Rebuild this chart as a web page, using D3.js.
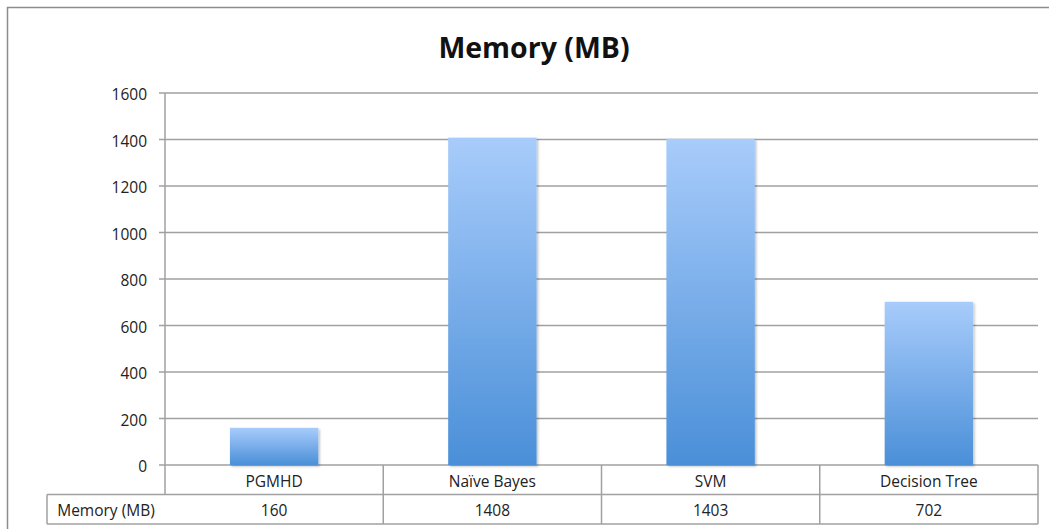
<!DOCTYPE html>
<html>
<head>
<meta charset="utf-8">
<script src="https://cdn.jsdelivr.net/npm/d3@7/dist/d3.min.js"></script>
<style>
  html, body { margin: 0; padding: 0; background: #fff; }
  svg { display: block; }
</style>
</head>
<body>
<svg id="chart" width="1049" height="529"></svg>
<script>
// Memory usage per classifier
const categories = ["PGMHD", "Naïve Bayes", "SVM", "Decision Tree"];
const memoryMB = [160, 1408, 1403, 702];
const yTicks = [0, 200, 400, 600, 800, 1000, 1200, 1400, 1600];
const seriesName = "Memory (MB)";
const chartTitle = "Memory (MB)";

const W = 1049, H = 529;
const font = "'Open Sans', 'Liberation Sans', sans-serif";
const labelSize = 15.5;
const plot = { left: 165, right: 1038, top: 93, bottom: 465 };
const rowH = 29.5;

const svg = d3.select("#chart");

// gradient fill for bars
const defs = svg.append("defs");
const grad = defs.append("linearGradient")
  .attr("id", "barFill").attr("x1", 0).attr("y1", 0).attr("x2", 0).attr("y2", 1);
grad.append("stop").attr("offset", "0%").attr("stop-color", "#a8ccfb");
grad.append("stop").attr("offset", "100%").attr("stop-color", "#4a8fd8");
const shadow = defs.append("filter").attr("id", "shadow")
  .attr("x", "-10%").attr("y", "-10%").attr("width", "130%").attr("height", "130%");
shadow.append("feDropShadow").attr("dx", 1.5).attr("dy", 1.5)
  .attr("stdDeviation", 1.2).attr("flood-color", "#000").attr("flood-opacity", 0.25);

// chart frame
svg.append("rect")
  .attr("x", 7.5).attr("y", 7.5).attr("width", W - 6).attr("height", H)
  .attr("fill", "#fff").attr("stroke", "#8c8c8c").attr("stroke-width", 1.5);

// title
svg.append("text")
  .attr("x", 534).attr("y", 58)
  .attr("text-anchor", "middle")
  .attr("font-family", font).attr("font-weight", "bold")
  .attr("font-size", 28.5).attr("fill", "#111")
  .text(chartTitle);

const x = d3.scaleBand().domain(categories).range([plot.left, plot.right]).paddingInner(0).paddingOuter(0);
const y = d3.scaleLinear().domain([0, 1600]).range([plot.bottom, plot.top]);

// horizontal gridlines
svg.append("g").selectAll("line").data(yTicks).join("line")
  .attr("x1", plot.left - 6).attr("x2", plot.right)
  .attr("y1", d => y(d)).attr("y2", d => y(d))
  .attr("stroke", "#a0a0a0").attr("stroke-width", 1.5);

// y-axis line
svg.append("line")
  .attr("x1", plot.left).attr("x2", plot.left)
  .attr("y1", plot.top).attr("y2", plot.bottom + rowH)
  .attr("stroke", "#a0a0a0").attr("stroke-width", 1.5);

// y tick labels
svg.append("g").selectAll("text").data(yTicks).join("text")
  .attr("x", plot.left - 18).attr("y", d => y(d) + 2)
  .attr("dy", "0.35em").attr("text-anchor", "end")
  .attr("font-family", font).attr("font-size", labelSize).attr("fill", "#222")
  .text(d => d);

// bars
const barW = x.bandwidth() * 0.405;
svg.append("g").selectAll("rect").data(categories).join("rect")
  .attr("x", d => x(d) + (x.bandwidth() - barW) / 2)
  .attr("width", barW)
  .attr("y", (d, i) => y(memoryMB[i]))
  .attr("height", (d, i) => y(0) - y(memoryMB[i]))
  .attr("fill", "url(#barFill)")
  .attr("filter", "url(#shadow)");

// data table below the plot
const table = svg.append("g");
const tLeft = 47;
const r1 = plot.bottom, r2 = plot.bottom + rowH, r3 = plot.bottom + 2 * rowH;
function tline(x1, y1, x2, y2) {
  table.append("line").attr("x1", x1).attr("y1", y1).attr("x2", x2).attr("y2", y2)
    .attr("stroke", "#a0a0a0").attr("stroke-width", 1.5);
}
tline(tLeft, r2, plot.right, r2);
tline(tLeft, r3, plot.right, r3);
tline(tLeft, r2, tLeft, r3);
categories.forEach(c => tline(x(c) + x.bandwidth(), r1, x(c) + x.bandwidth(), r3));

table.selectAll("text.cat").data(categories).join("text")
  .attr("class", "cat")
  .attr("x", d => x(d) + x.bandwidth() / 2).attr("y", (r1 + r2) / 2 + 1.5)
  .attr("dy", "0.35em").attr("text-anchor", "middle")
  .attr("font-family", font).attr("font-size", labelSize).attr("fill", "#222")
  .text(d => d);

table.selectAll("text.val").data(categories).join("text")
  .attr("class", "val")
  .attr("x", d => x(d) + x.bandwidth() / 2).attr("y", (r2 + r3) / 2 + 1.5)
  .attr("dy", "0.35em").attr("text-anchor", "middle")
  .attr("font-family", font).attr("font-size", labelSize).attr("fill", "#222")
  .text((d, i) => memoryMB[i]);

table.append("text")
  .attr("x", (tLeft + plot.left) / 2).attr("y", (r2 + r3) / 2 + 1.5)
  .attr("dy", "0.35em").attr("text-anchor", "middle")
  .attr("font-family", font).attr("font-size", labelSize).attr("fill", "#222")
  .text(seriesName);
</script>
</body>
</html>
